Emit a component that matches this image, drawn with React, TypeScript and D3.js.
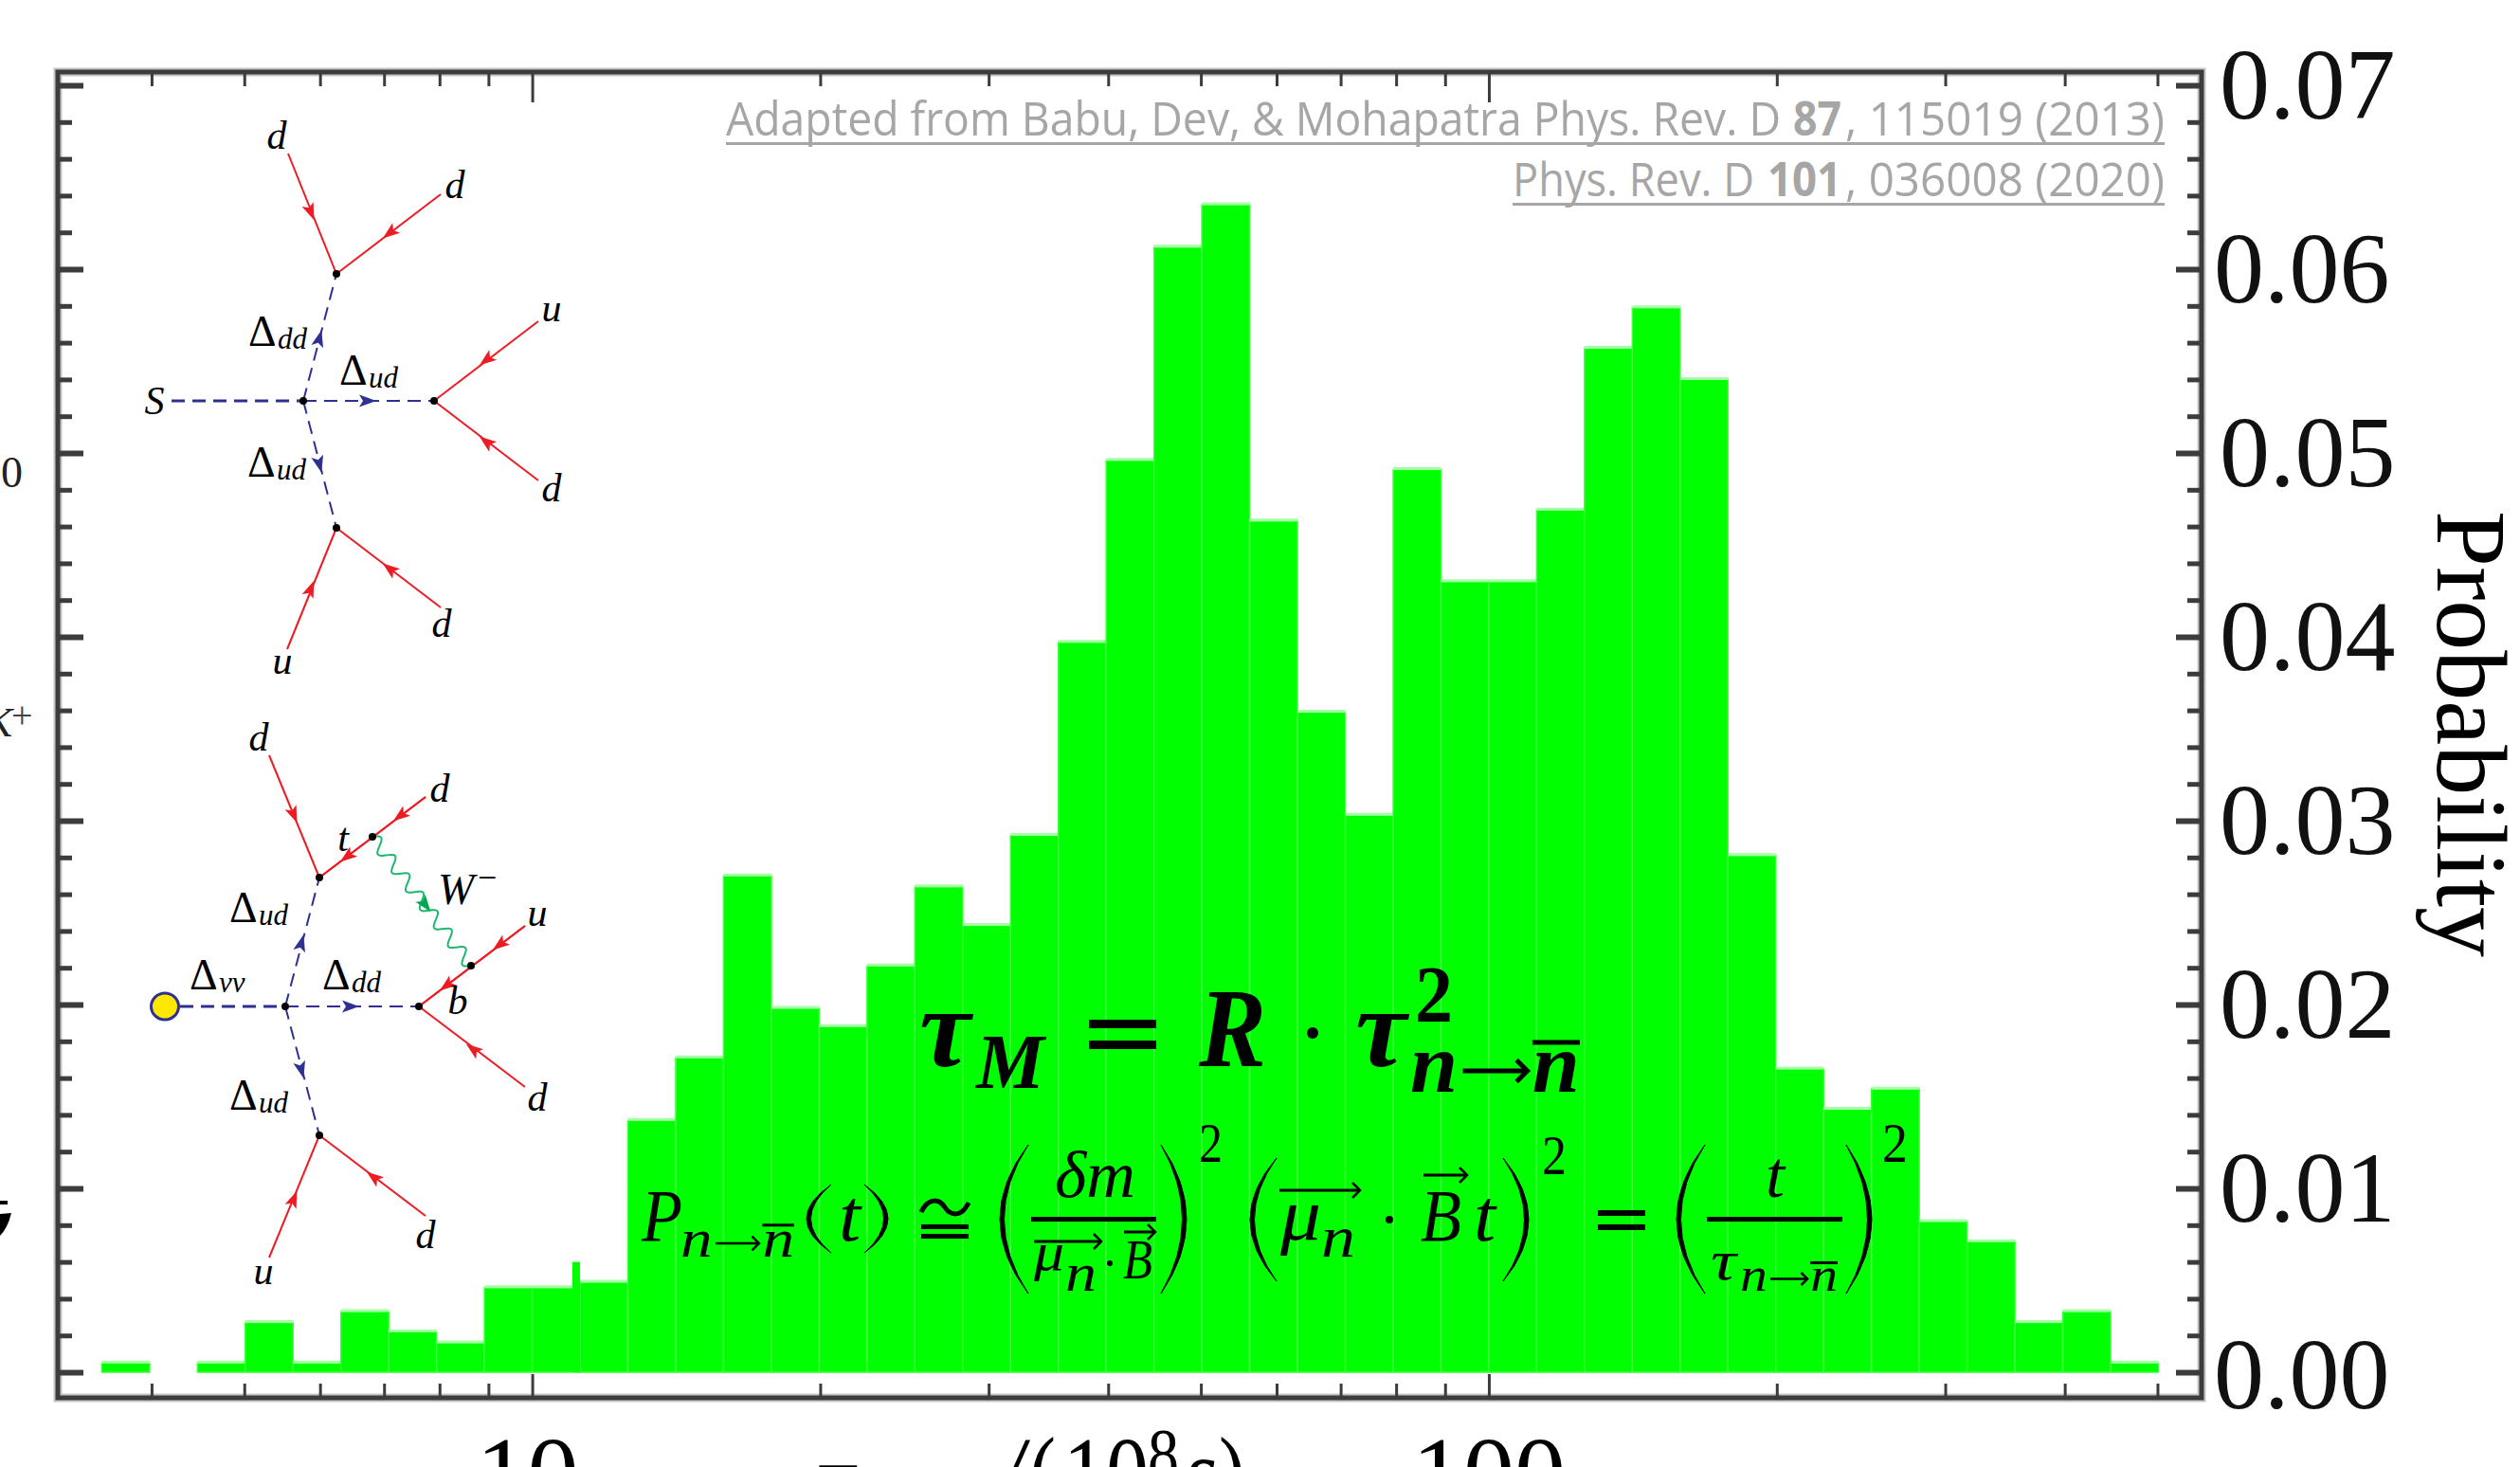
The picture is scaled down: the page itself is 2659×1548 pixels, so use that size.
import React, { useEffect, useRef } from "react";
import * as d3 from "d3";

const WIDTH = 2659;
const HEIGHT = 1548;

// log10 of the left edge of every histogram bin
const binStarts = [
  0.55, 0.6, 0.65, 0.7, 0.75, 0.8, 0.85, 0.9, 0.95, 1.0, 1.05, 1.1, 1.15, 1.2, 1.25,
  1.3, 1.35, 1.4, 1.45, 1.5, 1.55, 1.6, 1.65, 1.7, 1.75, 1.8, 1.85, 1.9, 1.95, 2.0,
  2.05, 2.1, 2.15, 2.2, 2.25, 2.3, 2.35, 2.4, 2.45, 2.5, 2.55, 2.6, 2.65,
];
const probabilities = [
  0.0005, 0, 0.0005, 0.0027, 0.0005, 0.0033, 0.0022, 0.0016, 0.0046, 0.0046, 0.0049,
  0.0137, 0.0171, 0.027, 0.0198, 0.0188, 0.0221, 0.0264, 0.0243, 0.0292, 0.0397, 0.0496,
  0.0612, 0.0635, 0.0463, 0.0359, 0.0303, 0.0491, 0.043, 0.043, 0.0469, 0.0557, 0.0579,
  0.054, 0.0281, 0.0165, 0.0143, 0.0154, 0.0082, 0.0071, 0.0027, 0.0033, 0.0005,
];
const yMajorTicks = [0, 0.01, 0.02, 0.03, 0.04, 0.05, 0.06, 0.07];
const yMinorTicks = [
  0.002, 0.004, 0.006, 0.008, 0.012, 0.014, 0.016, 0.018, 0.022, 0.024, 0.026, 0.028,
  0.032, 0.034, 0.036, 0.038, 0.042, 0.044, 0.046, 0.048, 0.052, 0.054, 0.056, 0.058,
  0.062, 0.064, 0.066, 0.068,
];
const xMajorTicks = [10, 100];
const xMinorTicks = [4, 5, 6, 7, 8, 9, 20, 30, 40, 50, 60, 70, 80, 90, 200, 300, 400, 500];

// Feynman diagrams: [from x, from y, to x, to y, arrow x, arrow y]
const redLines = [
  [304, 162, 355, 289, 328, 224],
  [465, 205, 355, 289, 411, 246],
  [568, 339, 458, 423, 513, 380],
  [568, 507, 458, 423, 513, 466],
  [303, 685, 355, 557, 328, 621],
  [465, 641, 355, 557, 411, 600],
  [284, 797, 337, 926, 310, 860],
  [449, 841, 337, 926, 422, 861],
  [449, 841, 337, 926, 366, 904],
  [554, 977, 442, 1062, 527, 997],
  [554, 977, 442, 1062, 471, 1040],
  [554, 1147, 442, 1062, 499, 1107],
  [284, 1327, 337, 1198, 310, 1265],
  [449, 1283, 337, 1198, 394, 1242],
];
const blueLines = [
  [181, 423, 320, 423, 0, 0],
  [320, 423, 458, 423, 388, 423],
  [320, 423, 355, 289, 337, 357],
  [320, 423, 355, 557, 337, 490],
  [190, 1062, 301, 1062, 0, 0],
  [301, 1062, 442, 1062, 370, 1062],
  [301, 1062, 337, 926, 318, 995],
  [301, 1062, 337, 1198, 318, 1129],
];
const vertices = [
  [355, 289], [320, 423], [458, 423], [355, 557],
  [337, 926], [393, 883], [301, 1062], [442, 1062], [497, 1019], [337, 1198],
];
const quarkLabels = [
  ["d", 292, 157], ["d", 480, 209], ["u", 582, 339], ["d", 582, 529], ["d", 466, 672],
  ["u", 298, 711], ["S", 163, 437], ["d", 273, 792], ["d", 464, 846], ["t", 362, 898],
  ["u", 567, 977], ["b", 483, 1070], ["d", 567, 1172], ["d", 449, 1317], ["u", 278, 1355],
];
const deltaLabels = [
  ["dd", 262, 365], ["ud", 358, 406], ["ud", 261, 503], ["ud", 242, 973],
  ["νν", 200, 1044], ["dd", 340, 1044], ["ud", 242, 1171],
];

export default function App() {
  const svgRef = useRef<SVGSVGElement>(null);

  useEffect(() => {
    const svg = d3.select(svgRef.current);
    svg.selectAll("*").remove();

    const serif = "'Liberation Serif', serif";
    const plot = { left: 61, right: 2323, top: 76, bottom: 1475 };

    const x = d3.scaleLog().domain([3.192, 556]).range([plot.left, plot.right]);
    const y = d3.scaleLinear().domain([0, 0.07]).range([1448, 90]);

    // histogram
    const binWidth = 0.05;
    const bars = svg.append("g");
    binStarts.forEach((start, i) => {
      if (!probabilities[i]) return;
      const x0 = x(Math.pow(10, start));
      const x1 = x(Math.pow(10, start + binWidth));
      bars
        .append("rect")
        .attr("x", x0)
        .attr("y", y(probabilities[i]))
        .attr("width", x1 - x0)
        .attr("height", y(0) - y(probabilities[i]))
        .attr("fill", "#00ff00")
        .attr("stroke", "#3dff3d")
        .attr("stroke-width", 1.5);
      // soft light fringe along the top of each bin
      bars
        .append("line")
        .attr("x1", x0)
        .attr("x2", x1)
        .attr("y1", y(probabilities[i]) - 1)
        .attr("y2", y(probabilities[i]) - 1)
        .attr("stroke", "#a6ffa6")
        .attr("stroke-width", 3);
    });
    // little notch at the edge of the bin after 10
    bars
      .append("rect")
      .attr("x", x(Math.pow(10, 1.042)))
      .attr("y", y(0.006))
      .attr("width", x(Math.pow(10, 1.05)) - x(Math.pow(10, 1.042)))
      .attr("height", y(0) - y(0.006))
      .attr("fill", "#00ff00");

    // frame
    [
      ["#c4c4c4", 9],
      ["#3c3c3c", 5],
    ].forEach(([color, w]) => {
      svg
        .append("rect")
        .attr("x", plot.left)
        .attr("y", plot.top)
        .attr("width", plot.right - plot.left)
        .attr("height", plot.bottom - plot.top)
        .attr("fill", "none")
        .attr("stroke", color as string)
        .attr("stroke-width", w as number);
    });

    // ticks on all four sides
    const drawAxis = (axis: any, tx: number, ty: number, w: number) => {
      const g = svg.append("g").attr("transform", `translate(${tx},${ty})`).call(axis);
      g.select(".domain").remove();
      g.selectAll("text").remove();
      g.selectAll("line").attr("stroke", "#3c3c3c").attr("stroke-width", w);
    };
    drawAxis(d3.axisBottom(x).tickValues(xMinorTicks).tickSize(-15), 0, plot.bottom, 3);
    drawAxis(d3.axisBottom(x).tickValues(xMajorTicks).tickSize(-25), 0, plot.bottom, 3);
    drawAxis(d3.axisTop(x).tickValues(xMinorTicks).tickSize(-15), 0, plot.top, 3);
    drawAxis(d3.axisTop(x).tickValues(xMajorTicks).tickSize(-32), 0, plot.top, 3);
    drawAxis(d3.axisLeft(y).tickValues(yMinorTicks).tickSize(-15), plot.left, 0, 5);
    drawAxis(d3.axisLeft(y).tickValues(yMajorTicks).tickSize(-27), plot.left, 0, 6);
    drawAxis(d3.axisRight(y).tickValues(yMinorTicks).tickSize(-15), plot.right, 0, 5);
    drawAxis(d3.axisRight(y).tickValues(yMajorTicks).tickSize(-27), plot.right, 0, 6);

    // axis labels
    yMajorTicks.forEach((v) => {
      svg
        .append("text")
        .attr("x", v === 0 || v === 0.06 ? 2336 : 2342)
        .attr("y", y(v) + (v === 0 ? 38 : 35))
        .attr("font-family", serif)
        .attr("font-size", 106)
        .attr("fill", "#111")
        .text(v.toFixed(2));
    });
    xMajorTicks.forEach((v) => {
      svg
        .append("text")
        .attr("x", x(v) - (v === 10 ? 5 : 0))
        .attr("y", 1591)
        .attr("text-anchor", "middle")
        .attr("font-family", serif)
        .attr("font-size", 108)
        .text(v);
    });
    svg
      .append("text")
      .attr("transform", "translate(2572,539) rotate(90)")
      .attr("font-family", serif)
      .attr("font-size", 106)
      .text("Probability");

    // text helper, width squeezes the glyphs the way the slide's math font does
    const put = (
      str: string,
      px: number,
      py: number,
      size: number,
      opts: { w?: number; bold?: boolean; italic?: boolean; anchor?: string; fill?: string } = {},
    ) => {
      const t = svg
        .append("text")
        .attr("x", px)
        .attr("y", py)
        .attr("font-family", serif)
        .attr("font-size", size)
        .attr("font-style", opts.italic === false ? "normal" : "italic")
        .attr("font-weight", opts.bold ? "bold" : "normal")
        .attr("text-anchor", opts.anchor || "start")
        .attr("fill", opts.fill || "#000")
        .text(str);
      if (opts.w) t.attr("textLength", opts.w).attr("lengthAdjust", "spacingAndGlyphs");
      return t;
    };
    const bar = (x0: number, x1: number, yy: number, h: number) =>
      svg.append("rect").attr("x", x0).attr("y", yy).attr("width", x1 - x0).attr("height", h).attr("fill", "#000");
    const paren = (x0: number, x1: number, y0: number, y1: number, left: boolean) => {
      const p = d3.path();
      const mid = (y0 + y1) / 2;
      const bulge = Math.abs(x1 - x0) * 2;
      const tip = left ? x1 : x0;
      const sign = left ? -1 : 1;
      p.moveTo(tip, y0);
      p.quadraticCurveTo(tip + sign * bulge, mid, tip, y1);
      p.quadraticCurveTo(tip + sign * (bulge - 9), mid, tip, y0);
      svg.append("path").attr("d", p.toString()).attr("fill", "#000").attr("stroke", "#000").attr("stroke-width", 1);
    };
    const chevron = (x1: number, yy: number, r: number, sw: number) =>
      svg
        .append("path")
        .attr("d", `M${x1 - r},${yy - r} L${x1},${yy} L${x1 - r},${yy + r}`)
        .attr("fill", "none")
        .attr("stroke", "#000")
        .attr("stroke-width", sw);
    const overArrow = (x0: number, x1: number, yy: number) => {
      bar(x0, x1, yy - 1.5, 3);
      chevron(x1, yy, 8, 2.5);
    };
    // n -> n-bar subscript, built from parts so the arrow sits tight between the letters
    const nToNbar = (x0: number, w: number, base: number, size: number, bold: boolean) => {
      const nw = w * 0.28;
      put("n", x0, base, size, { w: nw, bold });
      put("n", x0 + w - nw, base, size, { w: nw, bold });
      const ay = base - size * 0.25;
      const sw = bold ? 5 : 2.5;
      bar(x0 + w * 0.31, x0 + w * 0.69, ay - sw / 2, sw);
      chevron(x0 + w * 0.69, ay, size * 0.13, sw);
      bar(x0 + w - nw, x0 + w, base - size * 0.62, bold ? 5 : 3);
    };

    // citation, each run squeezed to its own width
    const grey = "#a6a6a6";
    const citeRun = (str: string, x0: number, x1: number, base: number, bold = false) =>
      svg
        .append("text")
        .attr("x", x0)
        .attr("y", base)
        .attr("font-family", "'Open Sans', sans-serif")
        .attr("font-size", 50)
        .attr("font-weight", bold ? "bold" : "normal")
        .attr("fill", grey)
        .attr("textLength", x1 - x0)
        .attr("lengthAdjust", "spacingAndGlyphs")
        .text(str);
    citeRun("Adapted from Babu, Dev, & Mohapatra Phys. Rev. D", 766, 1879, 143);
    citeRun("87", 1892, 1943, 143, true);
    citeRun(", 115019 (2013)", 1947, 2284, 143);
    svg.append("rect").attr("x", 766).attr("y", 150).attr("width", 1518).attr("height", 3).attr("fill", grey);
    citeRun("Phys. Rev. D", 1596, 1851, 207);
    citeRun("101", 1865, 1943, 207, true);
    citeRun(", 036008 (2020)", 1947, 2284, 207);
    svg.append("rect").attr("x", 1596).attr("y", 214).attr("width", 688).attr("height", 3).attr("fill", grey);

    // Feynman diagrams
    const arrowHead = (l: number[], color: string) => {
      const a = (Math.atan2(l[3] - l[1], l[2] - l[0]) * 180) / Math.PI;
      svg
        .append("path")
        .attr("d", "M9,0 L-9,-6.5 L-5,0 L-9,6.5 Z")
        .attr("transform", `translate(${l[4]},${l[5]}) rotate(${a})`)
        .attr("fill", color);
    };
    redLines.forEach((l) => {
      svg.append("line").attr("x1", l[0]).attr("y1", l[1]).attr("x2", l[2]).attr("y2", l[3])
        .attr("stroke", "#ed1c24").attr("stroke-width", 2);
      arrowHead(l, "#ed1c24");
    });
    blueLines.forEach((l) => {
      svg.append("line").attr("x1", l[0]).attr("y1", l[1]).attr("x2", l[2]).attr("y2", l[3])
        .attr("stroke", "#2e3192").attr("stroke-width", l[4] ? 2 : 3).attr("stroke-dasharray", "14 8");
      if (l[4]) arrowHead(l, "#2e3192");
    });

    // W boson wiggle between the t and b vertices
    const wave = d3
      .line<number>()
      .x((s) => 393 + 104 * s + 7 * Math.sin(s * Math.PI * 14) * 0.79)
      .y((s) => 883 + 136 * s - 7 * Math.sin(s * Math.PI * 14) * 0.61)
      .curve(d3.curveBasis);
    svg.append("path").attr("d", wave(d3.range(0, 1.001, 0.01)))
      .attr("fill", "none").attr("stroke", "#1fb76e").attr("stroke-width", 2);
    arrowHead([393, 883, 497, 1019, 449, 955], "#00a651");

    vertices.forEach(([vx, vy]) => {
      svg.append("circle").attr("cx", vx).attr("cy", vy).attr("r", 4).attr("fill", "#000");
    });
    svg.append("ellipse").attr("cx", 174).attr("cy", 1062).attr("rx", 14.5).attr("ry", 14)
      .attr("fill", "#ffe800").attr("stroke", "#2e3192").attr("stroke-width", 3);

    quarkLabels.forEach(([s, lx, ly]) => put(s as string, lx as number, ly as number, 42, { anchor: "middle" }));
    deltaLabels.forEach(([s, lx, ly]) => {
      put("Δ", lx as number, ly as number, 46, { italic: false });
      put(s as string, (lx as number) + 31, (ly as number) + 3, 31);
    });
    put("W", 462, 954, 46);
    put("−", 504, 938, 36, { italic: false });

    // pieces cut off at the left edge of the slide
    put("0", 1, 514, 46, { italic: false, fill: "#222" });
    put("K", 13, 777, 44, { anchor: "end", fill: "#222" });
    put("+", 12, 768, 40, { italic: false, fill: "#444" });
    bar(0, 8, 1267, 4);
    svg.append("path").attr("d", "M0,1281 L12,1280 Q8,1296 0,1304 Z").attr("fill", "#000");

    // tau_M = R tau^2
    put("τ", 970, 1125, 118, { w: 54, bold: true });
    put("M", 1030, 1148, 82, { w: 72, bold: true });
    bar(1149, 1220, 1076, 9);
    bar(1149, 1220, 1098, 9);
    put("R", 1265, 1125, 118, { w: 71, bold: true });
    svg.append("circle").attr("cx", 1385).attr("cy", 1090).attr("r", 6).attr("fill", "#000");
    put("τ", 1430, 1125, 118, { w: 54, bold: true });
    put("2", 1493, 1078, 84, { w: 40, bold: true, italic: false });
    nToNbar(1488, 179, 1152, 88, true);

    // P(t) line
    put("P", 677, 1309, 78, { w: 43 });
    nToNbar(718, 120, 1326, 56, false);
    paren(851, 877, 1250, 1322, true);
    put("t", 885, 1309, 78, { w: 23 });
    paren(912, 937, 1250, 1322, false);
    // congruent sign
    svg.append("path").attr("d", "M972,1279 C980,1262 992,1266 997,1274 C1002,1282 1014,1286 1022,1269")
      .attr("fill", "none").attr("stroke", "#000").attr("stroke-width", 5);
    bar(972, 1022, 1292, 5);
    bar(972, 1022, 1302, 5);
    paren(1055, 1085, 1208, 1365, true);
    put("δm", 1113, 1263, 70, { w: 85 });
    bar(1088, 1220, 1284, 5);
    overArrow(1091, 1162, 1310);
    put("μ", 1091, 1340, 58, { w: 32 });
    put("n", 1124, 1362, 58, { w: 33 });
    svg.append("circle").attr("cx", 1171).attr("cy", 1333).attr("r", 3).attr("fill", "#000");
    put("B", 1185, 1349, 60, { w: 31 });
    overArrow(1186, 1219, 1300);
    paren(1225, 1252, 1208, 1365, false);
    put("2", 1265, 1226, 60, { w: 25, italic: false });

    paren(1319, 1347, 1222, 1352, true);
    overArrow(1350, 1435, 1256);
    put("μ", 1351, 1308, 78, { w: 43 });
    put("n", 1394, 1326, 62, { w: 36 });
    svg.append("circle").attr("cx", 1466).attr("cy", 1287).attr("r", 4).attr("fill", "#000");
    put("B", 1499, 1309, 78, { w: 43 });
    overArrow(1502, 1548, 1240);
    put("t", 1555, 1309, 78, { w: 23 });
    paren(1586, 1613, 1222, 1352, false);
    put("2", 1627, 1239, 60, { w: 26, italic: false });
    bar(1686, 1736, 1277, 6);
    bar(1686, 1736, 1292, 6);

    paren(1769, 1799, 1208, 1365, true);
    put("t", 1863, 1263, 70, { w: 20 });
    bar(1801, 1944, 1284, 5);
    put("τ", 1805, 1350, 60, { w: 27 });
    nToNbar(1836, 103, 1362, 50, false);
    paren(1948, 1975, 1208, 1365, false);
    put("2", 1986, 1226, 60, { w: 27, italic: false });

    // x title, cut by the bottom of the slide
    put("τ", 860, 1590, 96, { w: 42, bold: true });
    put("/", 1054, 1591, 108, { w: 26 });
    put("(", 1086, 1591, 108, { w: 28, italic: false });
    put("10", 1122, 1591, 108, { w: 90, italic: false });
    put("8", 1211, 1560, 76, { w: 33, italic: false });
    put("s", 1250, 1591, 108, { w: 34 });
    put(")", 1286, 1591, 108, { w: 28, italic: false });
  }, []);

  return (
    <svg
      ref={svgRef}
      width={WIDTH}
      height={HEIGHT}
      style={{ position: "absolute", left: 0, top: 0, background: "#fff", display: "block" }}
    />
  );
}
